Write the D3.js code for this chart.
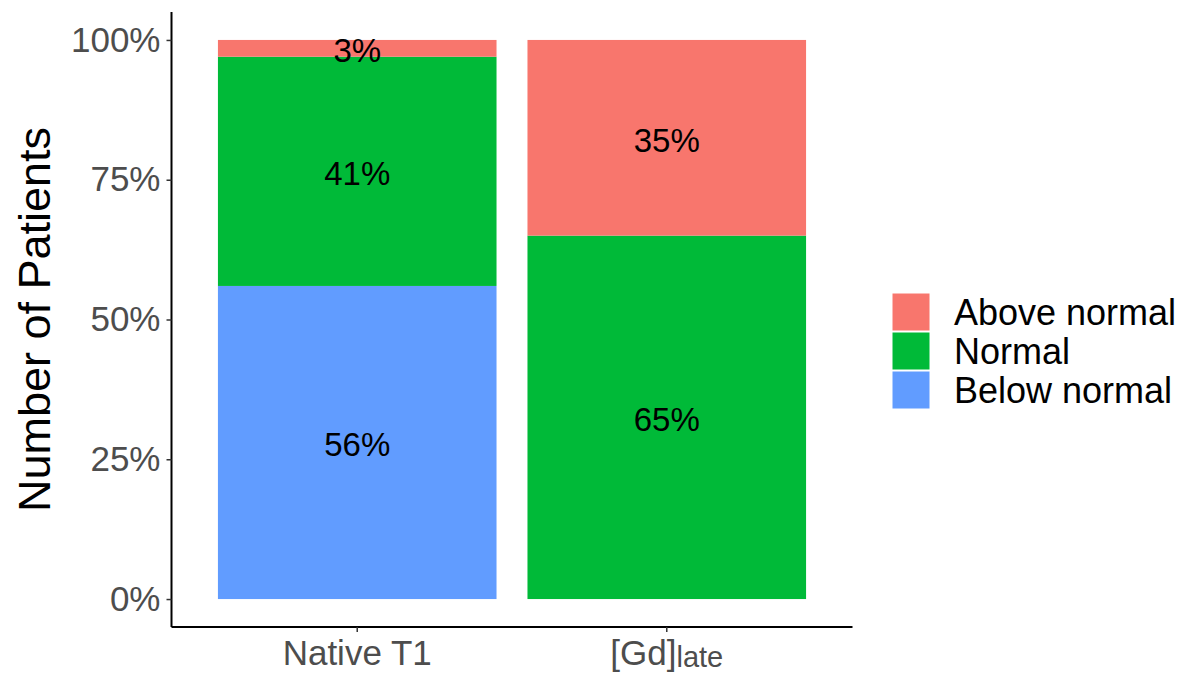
<!DOCTYPE html>
<html>
<head>
<meta charset="utf-8">
<script src="https://cdn.jsdelivr.net/npm/d3@7"></script>
<style>
  body { margin: 0; background: #fff; }
  svg { font-family: "Liberation Sans", Arial, sans-serif; }
</style>
</head>
<body>
<svg id="chart" width="1182" height="675"></svg>
<script>
// data
const categories = ["Native T1", "[Gd]late"];
const series_keys = ["Below normal", "Normal", "Above normal"];
const legend_order = ["Above normal", "Normal", "Below normal"];
const below_normal = [56, 0];
const normal = [41, 65];
const above_normal = [3, 35];
const y_ticks = [0, 25, 50, 75, 100];
const fill_colors = ["#619CFF", "#00BA38", "#F8766D"];

function whenDocumentLoaded(action) {
	if (document.readyState === "loading") {
		document.addEventListener("DOMContentLoaded", action);
	} else {
		action();
	}
}

whenDocumentLoaded(() => {
	const svg = d3.select("#chart");

	const panel = {left: 171.5, right: 852.5, top: 12, bottom: 627};

	const rows = categories.map((c, i) => ({
		category: c,
		"Below normal": below_normal[i],
		"Normal": normal[i],
		"Above normal": above_normal[i]
	}));

	const stacked = d3.stack().keys(series_keys)(rows);

	const color_scale = d3.scaleOrdinal()
		.domain(series_keys)
		.range(fill_colors);

	// ggplot: bar width 0.9, 0.6 expansion on each side
	const x = d3.scaleBand()
		.domain(categories)
		.range([panel.left, panel.right])
		.paddingInner(0.1)
		.paddingOuter(0.15);

	// 5% expansion like ggplot
	const y = d3.scaleLinear()
		.domain([-5, 105])
		.range([panel.bottom, panel.top]);

	// bars
	const layers = svg.append("g").selectAll("g")
		.data(stacked)
		.enter().append("g")
		.attr("fill", d => color_scale(d.key));

	layers.selectAll("rect")
		.data(d => d.filter(s => s[1] - s[0] > 0))
		.enter().append("rect")
		.attr("x", d => x(d.data.category))
		.attr("width", x.bandwidth())
		.attr("y", d => y(d[1]))
		.attr("height", d => y(d[0]) - y(d[1]));

	// bar labels
	const label_g = svg.append("g");
	stacked.forEach(layer => {
		layer.filter(s => s[1] - s[0] > 0).forEach(s => {
			label_g.append("text")
				.attr("x", x(s.data.category) + x.bandwidth() / 2)
				.attr("y", y((s[0] + s[1]) / 2))
				.attr("dy", "0.42em")
				.attr("text-anchor", "middle")
				.style("font-size", "33px")
				.attr("fill", "#000")
				.text((s[1] - s[0]) + "%");
		});
	});

	// y axis
	const y_axis = d3.axisLeft(y)
		.tickValues(y_ticks)
		.tickSize(5)
		.tickPadding(6)
		.tickFormat(d => d + "%");

	const y_g = svg.append("g")
		.attr("transform", "translate(" + panel.left + ",0)")
		.call(y_axis);
	y_g.select(".domain").attr("d", "M0," + panel.top + "V" + panel.bottom).attr("stroke-width", 2);
	y_g.selectAll(".tick line").attr("stroke", "#333").attr("stroke-width", 1.5);
	y_g.selectAll(".tick text")
		.attr("fill", "#4D4D4D")
		.attr("font-family", null)
		.style("font-size", "35px");

	// x axis
	const x_axis = d3.axisBottom(x)
		.tickSize(5)
		.tickPadding(6);

	const x_g = svg.append("g")
		.attr("transform", "translate(0," + panel.bottom + ")")
		.call(x_axis);
	x_g.select(".domain").attr("d", "M" + panel.left + ",0H" + panel.right).attr("stroke-width", 2);
	x_g.selectAll(".tick line").attr("stroke", "#333").attr("stroke-width", 1.5);
	x_g.selectAll(".tick text")
		.attr("fill", "#4D4D4D")
		.attr("font-family", null)
		.attr("dy", "0.76em")
		.style("font-size", "35px")
		.each(function(d) {
			const t = d3.select(this);
			if (d === "[Gd]late") {
				t.text(null);
				t.append("tspan").text("[Gd]");
				t.append("tspan").attr("dy", "2").style("font-size", "29px").text("late");
			}
		});

	// y title
	svg.append("text")
		.attr("transform", "translate(" + 50 + "," + (panel.top + panel.bottom) / 2 + ") rotate(-90)")
		.attr("text-anchor", "middle")
		.style("font-size", "45px")
		.attr("fill", "#000")
		.text("Number of Patients");

	// legend
	const key_size = 38;
	const legend = svg.append("g")
		.attr("transform", "translate(892,293)");

	const items = legend.selectAll("g")
		.data(legend_order)
		.enter().append("g")
		.attr("transform", (d, i) => "translate(0," + i * (key_size + 1) + ")");

	items.append("rect")
		.attr("width", key_size)
		.attr("height", key_size)
		.attr("fill", d => color_scale(d))
		.attr("stroke", "#fff")
		.attr("stroke-width", 1);

	items.append("text")
		.attr("x", 62)
		.attr("y", key_size / 2)
		.attr("dy", "0.36em")
		.style("font-size", "36px")
		.attr("fill", "#000")
		.text(d => d);
});
</script>
</body>
</html>
